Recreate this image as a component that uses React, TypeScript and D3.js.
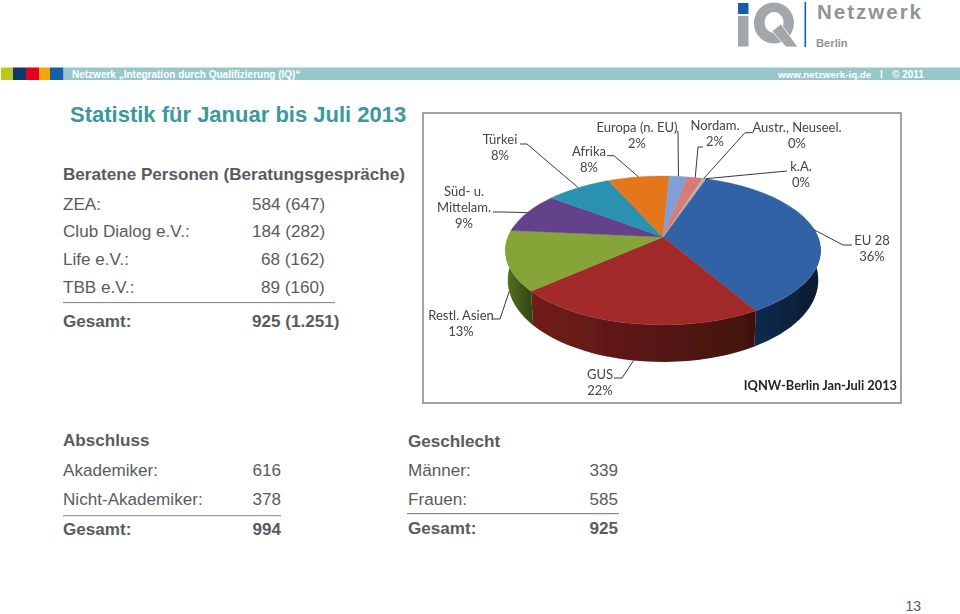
import React from "react";
import * as d3 from "d3";

const categories = ["EU 28","GUS","Restl. Asien","Süd- u. Mittelam.","Türkei","Afrika","Europa (n. EU)","Nordam.","Austr., Neuseel.","k.A."];
const shares = [36.3,21.9,13,8.8,8,7.5,2.2,1.9,0.2,0.2];
const shareLabels = ["36%","22%","13%","9%","8%","8%","2%","2%","0%","0%"];

const sectionRows = [["ZEA:","584 (647)"],["Club Dialog e.V.:","184 (282)"],["Life e.V.:","68 (162)"],["TBB e.V.:","89 (160)"]];
const degreeRows = [["Akademiker:","616"],["Nicht-Akademiker:","378"]];
const genderRows = [["Männer:","339"],["Frauen:","585"]];

const topColors = ["#3162a6","#a32c2a","#85a538","#64438b","#2a91b1","#e4771c","#7f9fd6","#d47c7a","#b9cc80","#a898c0"];
const wallColors = ["#112c4f","#711d19","#55741f","#3d2858","#1a5a70","#8d4a10","#4c6285","#844c4b","#73804f","#695f78"];

// label layout: text anchor and the fixed part of each leader line
const labelLayout = [
  { x: 872, y: 245, lines: ["EU 28"], leader: [[852, 245],[843, 245]] },
  { x: 600, y: 379, lines: ["GUS"], leader: [[614, 378],[622, 378]] },
  { x: 461, y: 320, lines: ["Restl. Asien"], leader: [[493, 319],[500, 319]] },
  { x: 464, y: 196, lines: ["Süd- u.","Mittelam."], leader: [[493, 212],[502, 212]] },
  { x: 500, y: 144, lines: ["Türkei"], leader: [[520, 144],[527, 144]] },
  { x: 589, y: 155.7, lines: ["Afrika"], leader: [[607, 155.7],[614, 155.7]] },
  { x: 637, y: 131.7, lines: ["Europa (n. EU)"], leader: [[676.7, 131.7],[678, 131.7]] },
  { x: 715, y: 130, lines: ["Nordam."], leader: [[703, 147],[698, 147]] },
  { x: 797, y: 131.7, lines: ["Austr., Neuseel."], leader: [[753, 132.7],[745, 132.7]] },
  { x: 801, y: 170.7, lines: ["k.A."], leader: [[786.7, 171],[786.7, 171]] },
];

const cx = 663, cy = 237, R = 155, S = 72, K = 0.181;
const project = (t: number, wall = false): [number, number] => {
  const X = Math.sin(t), Y = Math.cos(t), w = 1 + K * Y;
  const px = cx + (R * X) / w, py = cy - (S * Y) / w;
  if (!wall) return [px, py];
  return [cx + ((px - cx) * 0.985), py + 28 - 9 * Y];
};

const pieGen = d3.pie<number>().sort(null).startAngle((19 * Math.PI) / 180).endAngle((379 * Math.PI) / 180);
const arcs = pieGen(shares);
const lineGen = d3.line();
const samples = (a: number, b: number) => d3.range(0, 25).map((i) => a + ((b - a) * i) / 24);

const BODY = "'Liberation Sans', Arial, sans-serif";
const INK = "#5a5b5d";
const LABEL = "Lato, 'Open Sans', sans-serif";
const FS = 17.1;

function Table({ x, valueX, rows, rowY, anchor }: any) {
  return rows.map((r: string[], i: number) => (
    <g key={i} fontSize={FS} fill={INK}>
      <text x={x} y={rowY[i]}>{r[0]}</text>
      <text x={valueX} y={rowY[i]} textAnchor={anchor}>{r[1]}</text>
    </g>
  ));
}

export default function App() {
  const fronts = arcs.map((a, i) => {
    const lo = Math.max(a.startAngle, Math.PI / 2 - 0.15);
    const hi = Math.min(a.endAngle, (3 * Math.PI) / 2 + 0.15);
    if (hi <= lo) return null;
    const ts = samples(lo, hi);
    return { i, d: lineGen([...ts.map((t) => project(t)), ...ts.slice().reverse().map((t) => project(t, true))])! + "Z" };
  });
  return (
    <svg width={960} height={614} style={{ position: "absolute", left: 0, top: 0, background: "#fff" }} fontFamily={BODY}>
      <defs>
        <filter id="soft" x="-5%" y="-5%" width="110%" height="110%"><feGaussianBlur stdDeviation="0.45" /></filter>
        <linearGradient id="shade" x1="0" x2="1" y1="0" y2="0">
          <stop offset="0" stopColor="#000" stopOpacity="0" />
          <stop offset="1" stopColor="#000" stopOpacity="0.42" />
        </linearGradient>
      </defs>

      {/* header */}
      <rect x={64} y={67.5} width={896} height={12.5} fill="#97c7c8" />
      {[["#b6c91c",1,13],["#0d3a6b",13,13],["#e2001a",26,13],["#f7a600",39,11],["#155ea8",50,13.5]].map((b: any) => (
        <rect key={b[1]} x={b[1]} y={67.5} width={b[2]} height={12.5} fill={b[0]} />
      ))}
      <text x={72} y={78} fontSize={10} fontWeight="bold" fill="#fff">Netzwerk „Integration durch Qualifizierung  (IQ)“</text>
      <text x={778} y={78} fontSize={9.8} fontWeight="bold" fill="#fff">www.netzwerk-iq.de</text>
      <text x={880} y={78} fontSize={10} fontWeight="bold" fill="#fff">I</text>
      <text x={892} y={78} fontSize={10} fontWeight="bold" fill="#fff">© 2011</text>

      {/* logo */}
      <rect x={738} y={3} width={10.5} height={11} fill="#155ea8" />
      <rect x={738} y={16} width={10.5} height={30.5} fill="#a3a7aa" />
      <path d="M774 2.5a20 20.5 0 1 1 -.1 0zM774 12a9.5 10.5 0 1 0 .1 0z" fill="#a3a7aa" fillRule="evenodd" />
      <path d="M772 31l9-7 17 23h-12z" fill="#a3a7aa" stroke="#fff" strokeWidth={0.8} />
      <rect x={804.5} y={2} width={1.6} height={45} fill="#155ea8" />
      <text x={817} y={18.6} fontSize={20.5} letterSpacing={2} fontWeight="bold" fill="#8f9497">Netzwerk</text>
      <text x={816} y={47} fontSize={11.2} fontWeight="bold" fill="#8f9497">Berlin</text>

      <text x={70} y={121.5} fontSize={22} fontWeight="bold" fill="#3c989c">Statistik für Januar bis Juli 2013</text>

      <text x={63} y={180} fontSize={FS} fontWeight="bold" fill={INK}>Beratene Personen (Beratungsgespräche)</text>
      <Table x={63} valueX={252} rows={sectionRows.slice(0, 2)} rowY={[209.5, 237]} anchor="start" />
      <Table x={63} valueX={261} rows={sectionRows.slice(2)} rowY={[265, 293]} anchor="start" />
      <rect x={63} y={302} width={272} height={1.1} fill="#888" />
      <g fontSize={FS} fontWeight="bold" fill={INK}>
        <text x={63} y={326.5}>Gesamt:</text>
        <text x={252} y={326.5}>925 (1.251)</text>
      </g>

      <g fontSize={FS} fontWeight="bold" fill={INK}>
        <text x={63} y={446}>Abschluss</text>
        <text x={408} y={447}>Geschlecht</text>
        <text x={63} y={535}>Gesamt:</text>
        <text x={281} y={535} textAnchor="end">994</text>
        <text x={408} y={534}>Gesamt:</text>
        <text x={618} y={534} textAnchor="end">925</text>
      </g>
      <Table x={63} valueX={281} rows={degreeRows} rowY={[476, 505]} anchor="end" />
      <Table x={408} valueX={618} rows={genderRows} rowY={[476, 505]} anchor="end" />
      <rect x={63} y={515} width={218} height={1.2} fill="#999" />
      <rect x={407} y={513} width={212} height={1.2} fill="#888" />
      <text x={921} y={611} fontSize={14} textAnchor="end" fill={INK}>13</text>

      {/* chart image */}
      <rect x={423} y={113} width={478} height={290} fill="#fff" stroke="#8c8c8c" strokeWidth={1.6} />
      <g filter="url(#soft)">
        {fronts.map((f) => f && (
          <g key={f.i}>
            <path d={f.d} fill={wallColors[f.i]} />
            <path d={f.d} fill="url(#shade)" />
          </g>
        ))}
        {arcs.map((a, i) => {
          const pts = samples(a.startAngle, a.endAngle).map((t) => project(t));
          return <path key={i} d={lineGen([[cx, cy], ...pts])! + "Z"} fill={topColors[i]} stroke={topColors[i]} strokeWidth={0.4} />;
        })}
        {labelLayout.map((l, i) => {
          const mid = (arcs[i].startAngle + arcs[i].endAngle) / 2;
          const rim = project(mid, i === 1 || i === 2);
          return <path key={i} d={lineGen([...l.leader as [number, number][], rim])!} fill="none" stroke="#222" strokeWidth={0.9} />;
        })}
        <g fontFamily={LABEL} fontSize={13} fill="#444" textAnchor="middle">
          {labelLayout.map((l, i) => (
            <text key={i} x={l.x} y={l.y}>
              {l.lines.map((t, j) => <tspan key={j} x={l.x} y={l.y + j * 16.2}>{t}</tspan>)}
              <tspan x={l.x} y={l.y + l.lines.length * 16.2}>{shareLabels[i]}</tspan>
            </text>
          ))}
        </g>
        <text x={897} y={390} fontFamily={LABEL} fontSize={12.8} fontWeight="bold" fill="#222" textAnchor="end">IQNW-Berlin Jan-Juli 2013</text>
      </g>
    </svg>
  );
}
